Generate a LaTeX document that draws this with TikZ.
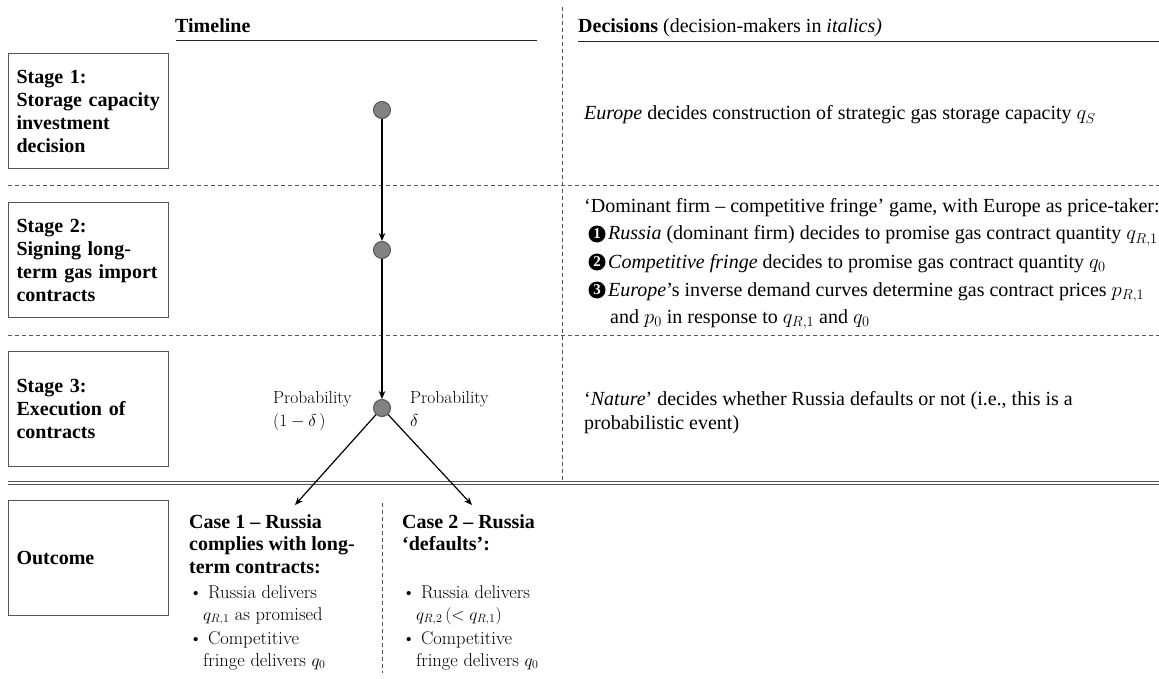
\documentclass[tikz,border=0pt]{standalone}
\usepackage{fontspec}
\newfontfamily\tnr{Liberation Serif}
\usetikzlibrary{arrows.meta}
\definecolor{boxgray}{RGB}{85,85,85}
\definecolor{dotfill}{RGB}{130,130,130}
\begin{document}
\begin{tikzpicture}[x=1pt,y=-1pt,
  stagebox/.style={draw=boxgray, line width=1.1pt, minimum width=160pt, minimum height=115pt,
    text width=144pt, inner xsep=8pt, align=left, anchor=north west,
    font=\tnr\bfseries\fontsize{20}{23}\selectfont},
  txt/.style={anchor=base west, inner sep=0pt, font=\tnr\fontsize{20}{24}\selectfont},
  btxt/.style={anchor=base west, inner sep=0pt, font=\tnr\bfseries\fontsize{20}{23}\selectfont},
  lmtxt/.style={anchor=base west, inner sep=0pt, font=\fontsize{18.5}{22}\selectfont},
  prob/.style={anchor=base west, inner sep=0pt, font=\fontsize{17.5}{22}\selectfont},
  numdot/.style={circle, fill=black, text=white, minimum size=17pt, inner sep=0pt,
    font=\tnr\bfseries\fontsize{15}{15}\selectfont},
  sepdash/.style={draw=boxgray, line width=0.8pt, dash pattern=on 4pt off 3pt},
  rule/.style={draw=black!85, line width=1pt},
  dot/.style={circle, draw=boxgray, fill=dotfill, line width=1pt, minimum size=17pt, inner sep=0pt},
  arr/.style={draw=black, line width=1.2pt, -{Stealth[length=8pt,width=6.5pt]}}
]
\useasboundingbox (0,0) rectangle (1159,679);

% headers
\node[btxt] (tl) at (175,33) {Timeline};
\draw[rule] (176,41) -- (537,41);
\node[txt] (dec) at (578,33) {\textbf{Decisions} (decision-makers in \textit{italics)}};
\draw[rule] (578,42) -- (1159,42);

% separators
\draw[sepdash] (562,7) -- (562,481);
\draw[sepdash] (8,185) -- (1159,185);
\draw[sepdash] (8,335) -- (1159,335);
\draw[draw=boxgray, line width=0.9pt, double, double distance=1.3pt] (8,483) -- (1159,483);
\draw[sepdash] (382,503) -- (382,673);

% stage boxes
\node[stagebox] (s1) at (8,53) {Stage 1:\\Storage capacity\\investment\\decision};
\node[stagebox] (s2) at (8,202) {Stage 2:\\Signing long-\\term gas import\\contracts};
\node[stagebox] (s3) at (8,351) {Stage 3:\\Execution of\\contracts};
\node[stagebox] (s4) at (8,500) {Outcome};

% timeline
\node[dot] (c1) at (382,110) {};
\node[dot] (c2) at (382,250) {};
\node[dot] (c3) at (382,408) {};
\coordinate (a1) at (295,505);
\coordinate (a2) at (472,505);
\draw[arr] (c1) -- (c2);
\draw[arr] (c2) -- (c3);
\draw[arr] (c3) -- (a1);
\draw[arr] (c3) -- (a2);

\node[prob] (pl1) at (273,403) {Probability};
\node[prob] (pl2) at (273,426) {$(1-\delta\,)$};
\node[prob] (pr1) at (410,403) {Probability};
\node[prob] (pr2) at (410,426) {$\delta$};

% decisions
\node[txt] (d1) at (584,120) {\textit{Europe} decides construction of strategic gas storage capacity $q_S$};
\node[txt] (d2) at (584,212) {‘Dominant firm – competitive fringe’ game, with Europe as price-taker:};
\node[numdot] (n1) at (597,234) {1};
\node[txt] (d3) at (608,240) {\textit{Russia} (dominant firm) decides to promise gas contract quantity $q_{R,1}$};
\node[numdot] (n2) at (597,262) {2};
\node[txt] (d4) at (608,268) {\textit{Competitive fringe} decides to promise gas contract quantity $q_0$};
\node[numdot] (n3) at (597,290) {3};
\node[txt] (d5) at (608,296) {\textit{Europe}’s inverse demand curves determine gas contract prices $p_{R,1}$};
\node[txt] (d6) at (610,323) {and $p_0$ in response to $q_{R,1}$ and $q_0$};
\node[txt] (d7) at (584,405) {‘\textit{Nature}’ decides whether Russia defaults or not (i.e., this is a};
\node[txt] (d8) at (584,429) {probabilistic event)};

% outcome case 1
\node[btxt] (k1a) at (189,528) {Case 1 – Russia};
\node[btxt] (k1b) at (189,550) {complies with long-};
\node[btxt] (k1c) at (189,573) {term contracts:};
\node[lmtxt] (k1d) at (189,598) {\textbullet\ Russia delivers};
\node[lmtxt] (k1e) at (203,620) {$q_{R,1}$ as promised};
\node[lmtxt] (k1f) at (189,644) {\textbullet\ Competitive};
\node[lmtxt] (k1g) at (203,666) {fringe delivers $q_0$};

% outcome case 2
\node[btxt] (k2a) at (402,528) {Case 2 – Russia};
\node[btxt] (k2b) at (402,550) {‘defaults’:};
\node[lmtxt] (k2d) at (402,598) {\textbullet\ Russia delivers};
\node[lmtxt] (k2e) at (416,620) {$q_{R,2}\,(<q_{R,1})$};
\node[lmtxt] (k2f) at (402,644) {\textbullet\ Competitive};
\node[lmtxt] (k2g) at (416,666) {fringe delivers $q_0$};
\end{tikzpicture}
\end{document}
